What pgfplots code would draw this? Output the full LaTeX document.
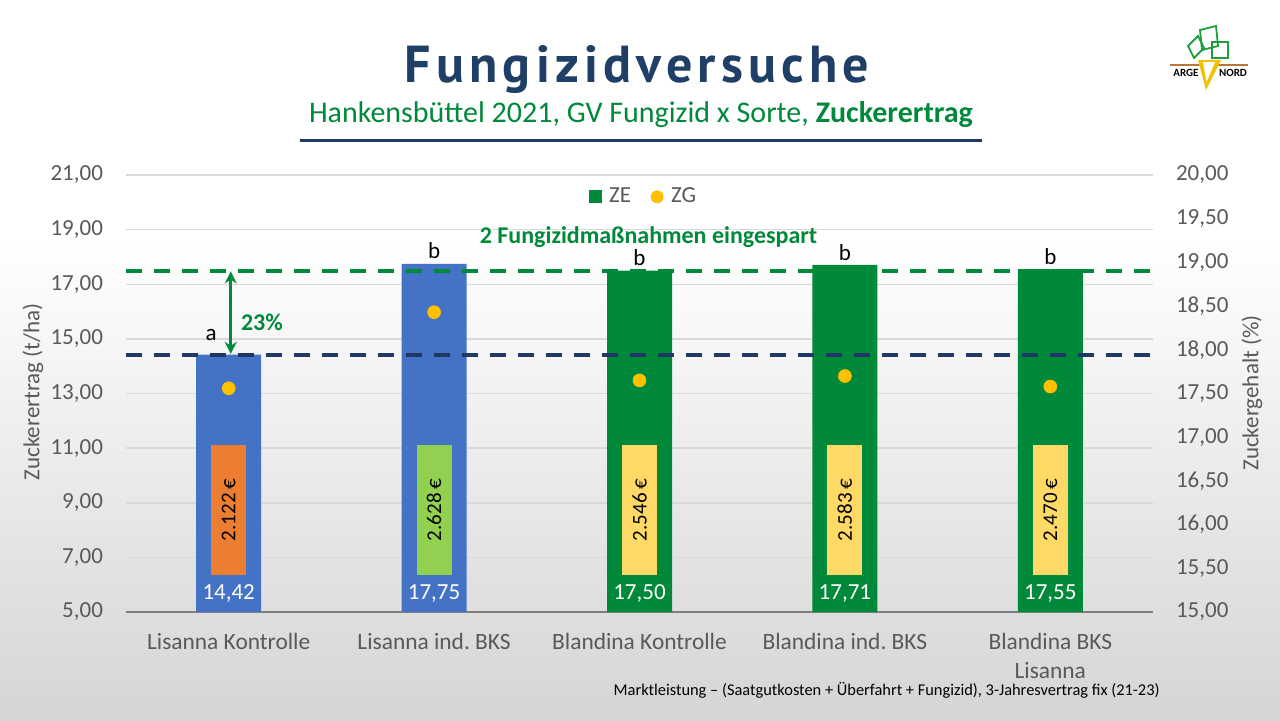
\documentclass[border=0pt]{standalone}
\usepackage{pgfplots}
\pgfplotsset{compat=1.18}
\usepackage{fontspec}
\setmainfont{Carlito}
\newfontfamily\titlefont[LetterSpace=10]{PT Sans}
\usetikzlibrary{arrows.meta}
\definecolor{zeblue}{HTML}{4472C4}
\definecolor{zegreen}{HTML}{00893A}
\definecolor{navy}{HTML}{1F3864}
\definecolor{titleblue}{HTML}{1F3F66}
\definecolor{orangeC}{HTML}{ED7D31}
\definecolor{lgreen}{HTML}{92D050}
\definecolor{lyellow}{HTML}{FFD966}
\definecolor{dotyellow}{HTML}{FFC000}
\definecolor{ticktext}{HTML}{595959}
\definecolor{gridc}{HTML}{D9D9D9}
\definecolor{bggray}{HTML}{D5D5D5}
\definecolor{logobrown}{HTML}{B8783A}
\definecolor{logoyellow}{HTML}{F2C200}
\definecolor{logogreen}{HTML}{1E9E3A}
\frenchspacing
\begin{document}
\begin{tikzpicture}
\useasboundingbox (0,0) rectangle (640pt,360pt);
\fill[white] (0,0) rectangle (640pt,360pt);
\shade[top color=white, bottom color=bggray] (0,0) rectangle (640pt,240pt);

% title
\node[anchor=base, text=titleblue, font=\titlefont\bfseries\fontsize{26}{28}\selectfont] at (318.5pt,319pt) {Fungizidversuche};
\node[anchor=base, text=zegreen, font=\fontsize{15}{17}\selectfont] at (320.5pt,299pt) {Hankensbüttel 2021, GV Fungizid x Sorte, \textbf{Zuckerertrag}};
\draw[navy, line width=1.5pt] (150pt,290pt) -- (491pt,290pt);

% logo
\draw[logobrown, line width=0.6pt] (585pt,327.5pt) -- (624pt,327.5pt);
\draw[logogreen, line width=0.9pt] (597pt,331pt) -- (594pt,337pt) -- (599pt,342pt) -- (602pt,336pt) -- cycle;
\draw[logogreen, line width=0.9pt] (601pt,335pt) -- (600pt,345pt) -- (608pt,347pt) -- (609pt,337pt) -- cycle;
\draw[logogreen, line width=0.9pt] (606pt,331pt) -- (606pt,339pt) -- (614pt,339pt) -- (614pt,331pt) -- cycle;
\fill[logoyellow] (599pt,330pt) -- (610.5pt,330pt) -- (603pt,315pt) -- cycle;
\fill[white] (601.5pt,329pt) -- (607.5pt,329pt) -- (603.3pt,319pt) -- cycle;
\node[font=\bfseries\fontsize{5.5}{6}\selectfont] at (593pt,323.5pt) {ARGE};
\node[font=\bfseries\fontsize{5.5}{6}\selectfont] at (616.5pt,323.5pt) {NORD};

% axis labels
\node[rotate=90, text=ticktext, font=\fontsize{11.5}{12}\selectfont] at (16.5pt,164pt) {Zuckerertrag (t/ha)};
\node[rotate=90, text=ticktext, font=\fontsize{11.5}{12}\selectfont] at (626pt,163.5pt) {Zuckergehalt (\%)};

% footer
\node[anchor=east, inner sep=0pt, font=\fontsize{8.2}{9}\selectfont] at (580pt,15pt) {Marktleistung -- (Saatgutkosten + Überfahrt + Fungizid), 3-Jahresvertrag fix (21-23)};

\begin{axis}[
  at={(63pt,54pt)}, anchor=south west,
  scale only axis, width=513.5pt, height=218.5pt,
  xmin=-0.5, xmax=4.5, ymin=5, ymax=21,
  ytick={5,7,9,11,13,15,17,19,21},
  xtick={0,1,2,3,4},
  xticklabels={Lisanna Kontrolle, Lisanna ind. BKS, Blandina Kontrolle, Blandina ind. BKS, {Blandina BKS\\Lisanna}},
  xticklabel style={align=center, font=\fontsize{11.7}{14.5}\selectfont, text=ticktext, yshift=-7pt},
  yticklabel style={font=\fontsize{11.5}{14}\selectfont, text=ticktext, xshift=-8pt,
    /pgf/number format/fixed, /pgf/number format/fixed zerofill,
    /pgf/number format/precision=2, /pgf/number format/use comma,
    /pgf/number format/assume math mode=true},
  ymajorgrids, grid style={gridc, line width=0.75pt},
  axis x line*=bottom, axis y line*=left,
  axis line style={-},
  y axis line style={draw=none},
  x axis line style={draw=gray, line width=0.75pt},
  tick style={draw=none},
  legend style={at={(0.505,0.95)}, anchor=center, draw=none, fill=none,
    font=\fontsize{11.5}{12}\selectfont, text=ticktext, legend columns=2,
    /tikz/every odd column/.append style={column sep=2pt},
    /tikz/every even column/.append style={column sep=8pt}},
  legend cell align=left,
]
% main bars
\addplot[ybar, bar width=32.5pt, bar shift=0pt, fill=zeblue, draw=none, forget plot] coordinates {(0,14.42) (1,17.75)};
\addplot[ybar, bar width=32.5pt, bar shift=0pt, fill=zegreen, draw=none, forget plot] coordinates {(2,17.50) (3,17.71) (4,17.55)};
% cost bars (from 6.35 to 11.10)
\addplot[fill=orangeC, draw=none, forget plot] coordinates {(-0.0852,6.35) (0.0852,6.35) (0.0852,11.10) (-0.0852,11.10)};
\addplot[fill=lgreen, draw=none, forget plot] coordinates {(0.9148,6.35) (1.0852,6.35) (1.0852,11.10) (0.9148,11.10)};
\addplot[fill=lyellow, draw=none, forget plot] coordinates {(1.9148,6.35) (2.0852,6.35) (2.0852,11.10) (1.9148,11.10)};
\addplot[fill=lyellow, draw=none, forget plot] coordinates {(2.9148,6.35) (3.0852,6.35) (3.0852,11.10) (2.9148,11.10)};
\addplot[fill=lyellow, draw=none, forget plot] coordinates {(3.9148,6.35) (4.0852,6.35) (4.0852,11.10) (3.9148,11.10)};
% reference lines
\addplot[navy, line width=2pt, dash pattern=on 8pt off 6pt, forget plot] coordinates {(-0.5,14.42) (4.5,14.42)};
\addplot[zegreen, line width=2pt, dash pattern=on 8pt off 6pt, forget plot] coordinates {(-0.5,17.5) (4.5,17.5)};
% arrow
\draw[zegreen, line width=1.5pt, {Stealth[length=6pt,width=6pt]}-{Stealth[length=6pt,width=6pt]}] (axis cs:0.01,14.45) -- (axis cs:0.01,17.47);
\node[text=zegreen, font=\bfseries\fontsize{12}{12}\selectfont] at (axis cs:0.162,15.59) {23\%};
% letters
\node[font=\fontsize{11.5}{12}\selectfont] at (axis cs:-0.086,15.14) {a};
\node[font=\fontsize{11.5}{12}\selectfont] at (axis cs:1,18.22) {b};
\node[font=\fontsize{11.5}{12}\selectfont] at (axis cs:2,17.96) {b};
\node[font=\fontsize{11.5}{12}\selectfont] at (axis cs:3,18.17) {b};
\node[font=\fontsize{11.5}{12}\selectfont] at (axis cs:4,18.00) {b};
% value labels
\node[text=white, font=\fontsize{11.5}{12}\selectfont] at (axis cs:0,5.66) {14,42};
\node[text=white, font=\fontsize{11.5}{12}\selectfont] at (axis cs:1,5.66) {17,75};
\node[text=white, font=\fontsize{11.5}{12}\selectfont] at (axis cs:2,5.66) {17,50};
\node[text=white, font=\fontsize{11.5}{12}\selectfont] at (axis cs:3,5.66) {17,71};
\node[text=white, font=\fontsize{11.5}{12}\selectfont] at (axis cs:4,5.66) {17,55};
% cost labels
\node[rotate=90, font=\fontsize{10.5}{11}\selectfont] at (axis cs:0,8.73) {2.122\,€};
\node[rotate=90, font=\fontsize{10.5}{11}\selectfont] at (axis cs:1,8.73) {2.628\,€};
\node[rotate=90, font=\fontsize{10.5}{11}\selectfont] at (axis cs:2,8.73) {2.546\,€};
\node[rotate=90, font=\fontsize{10.5}{11}\selectfont] at (axis cs:3,8.73) {2.583\,€};
\node[rotate=90, font=\fontsize{10.5}{11}\selectfont] at (axis cs:4,8.73) {2.470\,€};
% annotation
\node[text=zegreen, font=\bfseries\fontsize{12}{12}\selectfont] at (axis cs:2.044,18.73) {2 Fungizidmaßnahmen eingespart};
% legend
\addlegendimage{only marks, mark=square*, mark size=3pt, color=zegreen}
\addlegendentry{ZE}
\addlegendimage{only marks, mark=*, mark size=3pt, color=dotyellow}
\addlegendentry{ZG}
\end{axis}

\begin{axis}[
  at={(63pt,54pt)}, anchor=south west,
  scale only axis, width=513.5pt, height=218.5pt,
  xmin=-0.5, xmax=4.5, ymin=15, ymax=20,
  ytick={15,15.5,16,16.5,17,17.5,18,18.5,19,19.5,20},
  axis y line*=right, axis x line=none,
  axis line style={-},
  y axis line style={draw=none},
  tick style={draw=none},
  yticklabel style={font=\fontsize{11.5}{14}\selectfont, text=ticktext, xshift=8pt,
    /pgf/number format/fixed, /pgf/number format/fixed zerofill,
    /pgf/number format/precision=2, /pgf/number format/use comma,
    /pgf/number format/assume math mode=true},
]
\addplot[only marks, mark=*, mark size=3.2pt, color=dotyellow, forget plot] coordinates {(0,17.56) (1,18.43) (2,17.65) (3,17.70) (4,17.58)};
\end{axis}
\end{tikzpicture}
\end{document}
